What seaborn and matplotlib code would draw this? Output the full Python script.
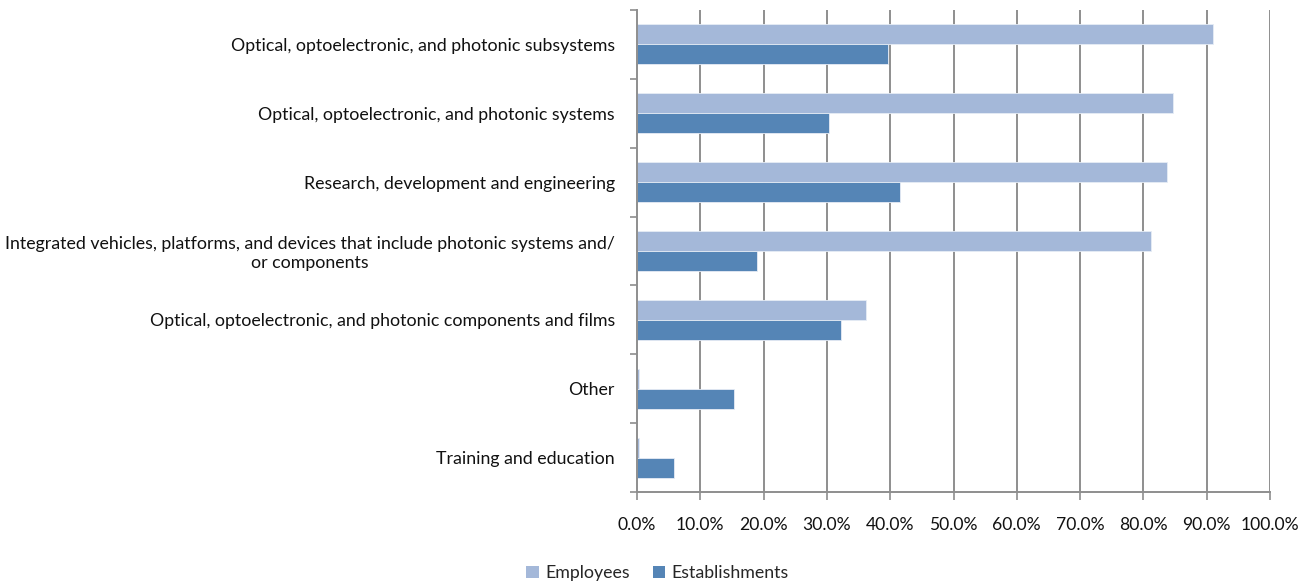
import matplotlib
matplotlib.use("Agg")
import matplotlib.pyplot as plt
from matplotlib.ticker import FixedLocator, PercentFormatter
from matplotlib.patches import Patch
import pandas as pd
import seaborn as sns

categories = [
    "Optical, optoelectronic, and photonic subsystems",
    "Optical, optoelectronic, and photonic systems",
    "Research, development and engineering",
    "Integrated vehicles, platforms, and devices that include photonic systems and/\nor components",
    "Optical, optoelectronic, and photonic components and films",
    "Other",
    "Training and education",
]
employees = [91.0, 84.6, 83.7, 81.2, 36.1, 0.3, 0.3]
establishments = [39.7, 30.3, 41.6, 18.9, 32.2, 15.3, 5.8]
series_names = ["Employees", "Establishments"]
series_colors = ["#A4B8D9", "#5585B6"]
x_ticks = [0, 10, 20, 30, 40, 50, 60, 70, 80, 90, 100]

df = pd.DataFrame({
    "category": categories * 2,
    "series": [series_names[0]] * len(categories) + [series_names[1]] * len(categories),
    "value": employees + establishments,
})

sns.set_theme(style="white")
plt.rcParams["font.family"] = ["Lato", "DejaVu Sans"]

fig = plt.figure(figsize=(13.07, 5.86), dpi=100)
ax = fig.add_axes([637 / 1307, 1 - 492 / 586, (1270 - 637) / 1307, (492 - 10) / 586])

grid_color = "#8E8E8E"
for xv in x_ticks[1:]:
    ax.axvline(xv, color=grid_color, linewidth=1.4, zorder=0)

sns.barplot(
    data=df, y="category", x="value", hue="series", order=categories,
    hue_order=series_names, palette=series_colors, orient="h",
    width=0.58, dodge=True, saturation=1, ax=ax, legend=False,
    edgecolor="#E6ECF5", linewidth=0.6, zorder=2,
)

ax.set_xlim(0, 100)
ax.set_ylim(len(categories) - 0.5, -0.5)
ax.set_xlabel("")
ax.set_ylabel("")

ax.xaxis.set_major_locator(FixedLocator(x_ticks))
ax.xaxis.set_major_formatter(PercentFormatter(decimals=1))
ax.tick_params(axis="x", which="major", direction="out", length=6, width=1.2,
               color=grid_color, labelsize=12.6, pad=12, labelcolor="#111111",
               bottom=True)

ax.set_yticks(range(len(categories)))
ax.set_yticklabels(categories, fontsize=12.8, color="#111111", multialignment="center")
ax.tick_params(axis="y", which="major", length=0, pad=16, left=True)
ax.yaxis.set_minor_locator(FixedLocator([i - 0.5 for i in range(len(categories) + 1)]))
ax.tick_params(axis="y", which="minor", direction="out", length=5, width=1.2,
               color=grid_color, left=True)

for side in ["top", "right"]:
    ax.spines[side].set_visible(False)
for side in ["left", "bottom"]:
    ax.spines[side].set_color(grid_color)
    ax.spines[side].set_linewidth(1.4)
ax.grid(False)

handles = [Patch(facecolor=c, edgecolor="none") for c in series_colors]
fig.legend(handles, series_names, loc="center", bbox_to_anchor=(0.503, 0.022),
           ncol=2, frameon=False, fontsize=12.8, handlelength=0.7, handleheight=0.7,
           handletextpad=0.35, columnspacing=1.3)

fig.savefig("out.png", dpi=100)
